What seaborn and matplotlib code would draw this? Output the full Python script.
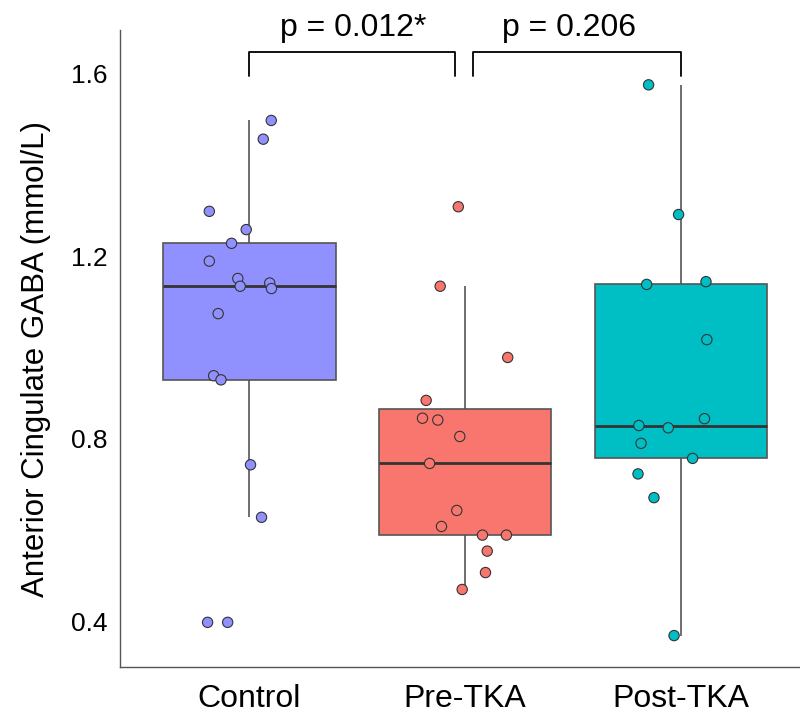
import numpy as np
import pandas as pd
import matplotlib.pyplot as plt
import seaborn as sns

# group names and colours
groups = ['Control', 'Pre-TKA', 'Post-TKA']
colors = ['#9090FF', '#F8766D', '#00BFC4']

# GABA values (mmol/L)
control_gaba = [1.497, 1.456, 1.298, 1.258, 1.228, 1.189, 1.151, 1.134, 1.141,
                1.129, 1.074, 0.938, 0.929, 0.743, 0.628, 0.398, 0.398]
pre_tka_gaba = [1.308, 1.134, 0.978, 0.884, 0.845, 0.841, 0.805, 0.746, 0.643,
                0.608, 0.589, 0.589, 0.554, 0.507, 0.470]
post_tka_gaba = [1.575, 1.291, 1.138, 1.144, 1.017, 0.844, 0.829, 0.824, 0.790,
                 0.757, 0.723, 0.671, 0.369]

# horizontal jitter of each point, as seen in the chart
control_jitter = [0.101, 0.064, -0.186, -0.015, -0.083, -0.186, -0.054, -0.043, 0.094,
                  0.102, -0.145, -0.166, -0.132, 0.005, 0.056, -0.194, -0.101]
pre_tka_jitter = [-0.032, -0.116, 0.197, -0.181, -0.198, -0.127, -0.025, -0.165, -0.039,
                  -0.110, 0.080, 0.191, 0.102, 0.094, -0.014]
post_tka_jitter = [-0.150, -0.011, -0.159, 0.116, 0.120, 0.109, -0.195, -0.059, -0.185,
                   0.054, -0.199, -0.125, -0.032]

# p-values between neighbouring groups
comparisons = [(0, 1, 'p = 0.012*'), (1, 2, 'p = 0.206')]

# build long table
values = [control_gaba, pre_tka_gaba, post_tka_gaba]
jitters = [control_jitter, pre_tka_jitter, post_tka_jitter]
df = pd.DataFrame({
    'group': np.repeat(groups, [len(v) for v in values]),
    'gaba': np.concatenate(values),
    'pos': np.concatenate([i + np.array(j) for i, j in enumerate(jitters)]),
})
palette = dict(zip(groups, colors))

sns.set_style('white')
plt.rcParams['font.family'] = ['Liberation Sans', 'DejaVu Sans']
plt.rcParams['text.color'] = 'black'
plt.rcParams['axes.labelcolor'] = 'black'
plt.rcParams['xtick.color'] = 'black'
plt.rcParams['ytick.color'] = 'black'

fig = plt.figure(figsize=(8, 7.15), dpi=100)
ax = fig.add_axes([0.15, 0.067, 0.863, 0.891])

sns.boxplot(data=df, x='group', y='gaba', hue='group', order=groups, palette=palette,
            width=0.8, showfliers=False, showcaps=False, saturation=1,
            linecolor='#555555', linewidth=1.2,
            medianprops=dict(color='#333333', linewidth=2),
            legend=False, ax=ax)

sns.scatterplot(data=df, x='pos', y='gaba', hue='group', palette=palette,
                s=55, edgecolor='#333333', linewidth=0.8, legend=False,
                zorder=3, ax=ax)

# significance brackets
for a, b, label in comparisons:
    x0 = a if a == 0 else a + 0.035
    x1 = b - 0.045 if b == 1 else b
    ax.plot([x0, x0, x1, x1], [1.595, 1.646, 1.646, 1.595], color='black',
            lw=1.3, clip_on=False)
    ax.text((a + b) / 2 - 0.02, 1.699, label, ha='center', va='center',
            fontsize=23, clip_on=False)

ax.set_xlim(-0.6, 2.6)
ax.set_ylim(0.30, 1.695)
ax.set_yticks([0.4, 0.8, 1.2, 1.6])
ax.set_xlabel('')
ax.set_ylabel('Anterior Cingulate GABA (mmol/L)', fontsize=22.5)
ax.yaxis.set_label_coords(-0.10, 0.4835)
ax.tick_params(axis='x', labelsize=23, length=4, color='#555555', pad=8)
ax.tick_params(axis='y', labelsize=19, length=0, pad=9)
ax.set_xticks(range(len(groups)))
ax.set_xticklabels(groups)

for side in ['top', 'right']:
    ax.spines[side].set_visible(False)
for side in ['left', 'bottom']:
    ax.spines[side].set_color('#555555')
    ax.spines[side].set_linewidth(1)

fig.savefig('out.png')
